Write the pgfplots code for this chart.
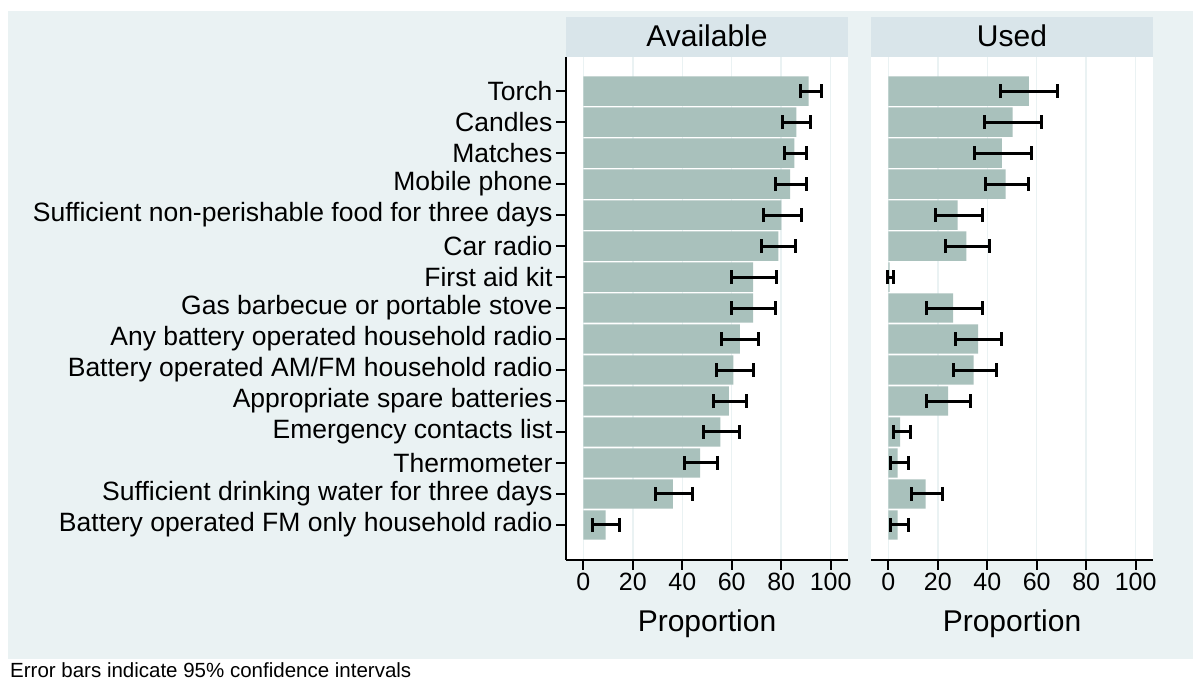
\documentclass[border=0pt]{standalone}
\usepackage{fontspec}
\setmainfont{Liberation Sans}
\usepackage{pgfplots}
\usepackage{pgfplotstable}
\pgfplotsset{compat=1.18}
\definecolor{outerbg}{RGB}{234,242,243}
\definecolor{stripbg}{RGB}{217,229,234}
\definecolor{barcol}{RGB}{169,193,188}
\definecolor{gridcol}{RGB}{234,242,243}

% y: 15 = Torch (top) ... 1 = FM only (bottom); ep/em = upper/lower CI distance
\pgfplotstableread{
y val ep em
15 91.1 5.0 3.4
14 86.1 5.8 5.4
13 85.3 4.9 4.0
12 83.6 6.8 5.8
11 80.1 8.2 7.3
10 78.9 7.0 6.8
9 68.6 9.6 8.8
8 68.6 9.2 8.8
7 63.3 7.6 7.3
6 60.7 7.9 6.7
5 58.8 7.3 6.3
4 55.4 7.7 6.7
3 47.2 7.0 6.2
2 36.2 8.1 6.9
1 9.0 5.5 5.2
}\avail

\pgfplotstableread{
y val ep em
15 56.8 11.7 11.3
14 50.2 11.9 11.3
13 45.9 12.0 11.2
12 47.4 9.4 8.0
11 28.0 10.2 8.9
10 31.6 9.4 8.6
9 0.5 1.7 0.7
8 26.2 11.8 10.6
7 36.3 9.6 9.1
6 34.5 9.1 8.1
5 24.2 9.2 8.6
4 4.8 4.1 2.9
3 3.8 4.2 3.0
2 15.1 6.9 5.6
1 3.8 4.2 3.0
}\used

\pgfplotsset{
  panel/.style={
    scale only axis,
    width=282pt, height=503pt,
    xmin=-7, xmax=107,
    ymin=-0.13, ymax=16.1,
    xtick={0,20,40,60,80,100},
    /pgf/number format/assume math mode=true,
    axis background/.style={fill=white},
    xmajorgrids,
    grid style={gridcol, line width=1.5pt},
    axis x line*=bottom,
    axis line style={line width=1.8pt, -, black},
    tick style={black, line width=1.8pt},
    tick align=outside,
    major tick length=10pt,
    xticklabel style={font=\fontsize{25}{30}\selectfont},
    yticklabel style={font=\fontsize{26.5}{31}\selectfont},
    xlabel={Proportion},
    xlabel style={font=\fontsize{30}{36}\selectfont, at={(axis description cs:0.5,0)}, anchor=base, yshift=-72pt},
  },
  barplot/.style={xbar, bar width=0.95, bar shift=0pt, fill=barcol, draw=none},
  errplot/.style={draw=none, mark=none,
    error bars/.cd, x dir=both, x explicit,
    error mark=|,
    error bar style={draw=black, solid, line width=3pt},
    error mark options={draw=black, solid, line width=3pt, mark size=7pt}},
}

\begin{document}
\begin{tikzpicture}
\useasboundingbox (0,0) rectangle (1200pt,687pt);
\fill[white] (0,0) rectangle (1200pt,687pt);
\fill[outerbg] (8pt,28pt) rectangle (1193pt,676pt);
\fill[stripbg] (566pt,630pt) rectangle (848pt,670pt);
\fill[stripbg] (871pt,630pt) rectangle (1153pt,670pt);
\node[font=\fontsize{30}{36}\selectfont] at (707pt,651pt) {Available};
\node[font=\fontsize{30}{36}\selectfont] at (1012pt,651pt) {Used};
\node[anchor=base west, font=\fontsize{20.5}{24}\selectfont, inner sep=0pt] at (10pt,9.3pt) {Error bars indicate 95\% confidence intervals};

\begin{axis}[panel, at={(566pt,127pt)}, anchor=south west,
  axis y line*=left,
  ytick={1,...,15},
  yticklabels={
    Battery operated FM only household radio,
    Sufficient drinking water for three days,
    Thermometer,
    Emergency contacts list,
    Appropriate spare batteries,
    Battery operated AM/FM household radio,
    Any battery operated household radio,
    Gas barbecue or portable stove,
    First aid kit,
    Car radio,
    Sufficient non-perishable food for three days,
    Mobile phone,
    Matches,
    Candles,
    Torch}]
\addplot[barplot] table[x=val, y=y] {\avail};
\addplot[errplot] table[x=val, y=y, x error plus=ep, x error minus=em] {\avail};
\end{axis}

\begin{axis}[panel, at={(871pt,127pt)}, anchor=south west,
  axis y line=none, ytick=\empty]
\addplot[barplot] table[x=val, y=y] {\used};
\addplot[errplot] table[x=val, y=y, x error plus=ep, x error minus=em] {\used};
\end{axis}
\end{tikzpicture}
\end{document}
